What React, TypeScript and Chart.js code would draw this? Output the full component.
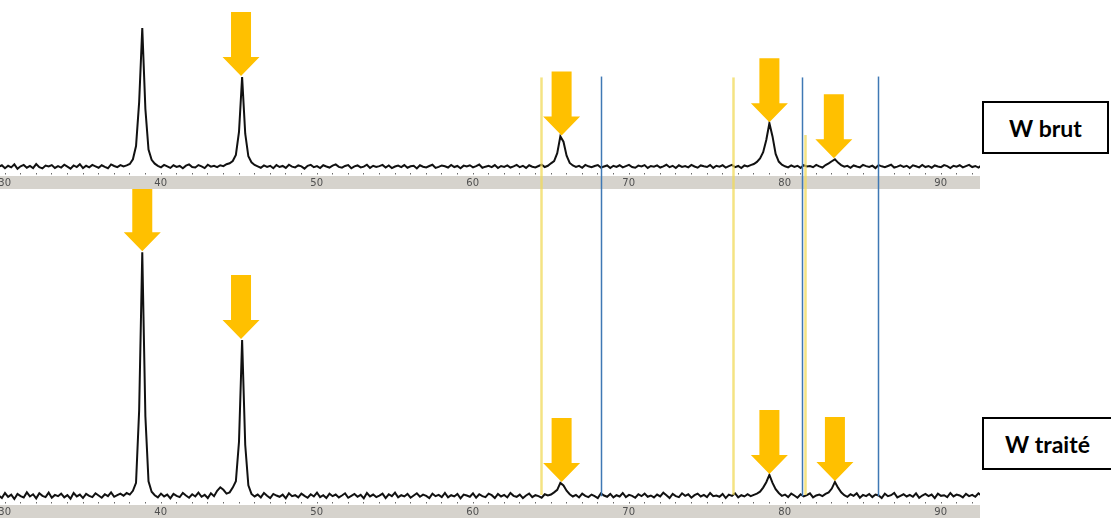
import { useEffect, useRef } from "react";
import { Chart, registerables } from "chart.js";

Chart.register(...registerables);

// ---- scan definition (2θ, degrees) ----
const scanStart = 29.62;
const scanStep = 0.2;
const axisMin = 29.7;
const axisMax = 92.52;
const tickLabels = [30, 40, 50, 60, 70, 80, 90];

// ---- W brut (top pattern), intensity a.u. ----
const brutCounts = [
  52, 61, 44, 58, 49, 66, 41, 55, 63, 47,
  57, 45, 68, 50, 43, 59, 54, 62, 46, 56,
  48, 64, 53, 42, 60, 51, 67, 45, 58, 49,
  63, 55, 47, 61, 52, 44, 66, 57, 50, 62,
  54, 60, 68, 95, 170, 420, 840, 380, 150, 92,
  70, 58, 49, 63, 55, 46, 61, 52, 57, 44,
  59, 66, 51, 48, 62, 55, 45, 64, 53, 58,
  50, 61, 56, 67, 72, 85, 120, 250, 562, 240,
  112, 78, 63, 55, 47, 60, 52, 58, 44, 62,
  51, 57, 46, 64, 53, 49, 60, 55, 42, 58,
  63, 50, 56, 45, 61, 54, 48, 59, 66, 52,
  47, 57, 62, 44, 55, 60, 49, 53, 64, 46,
  58, 51, 56, 63, 48, 60, 45, 54, 59, 50,
  62, 47, 55, 58, 43, 61, 53, 49, 57, 64,
  46, 52, 60, 55, 48, 63, 51, 57, 44, 59,
  54, 61, 49, 56, 65, 47, 53, 58, 50, 62,
  45, 57, 52, 60, 48, 55, 63, 50, 58, 46,
  61, 53, 49, 57, 64, 51, 58, 72, 85, 130,
  225, 195, 115, 74, 60, 52, 58, 47, 63, 55,
  50, 57, 62, 48, 54, 60, 45, 58, 52, 61,
  49, 56, 63, 51, 47, 59, 54, 62, 46, 57,
  53, 60, 48, 55, 64, 50, 58, 45, 61, 52,
  57, 49, 63, 54, 47, 60, 55, 51, 62, 46,
  58, 53, 61, 48, 56, 63, 50, 57, 45, 60,
  54, 62, 68, 80, 100, 135, 205, 300, 225, 125,
  82, 64, 55, 49, 60, 52, 58, 46, 61, 54,
  57, 50, 63, 55, 48, 62, 72, 84, 95, 76,
  62, 53, 58, 47, 60, 54, 49, 63, 56, 51,
  59, 45, 62, 55, 50, 57, 64, 48, 53, 60,
  52, 58, 46, 61, 55, 49, 63, 51, 57, 47,
  60, 54, 50, 62, 56, 45, 58, 53, 61, 49,
  56, 63, 51, 57, 48, 60,
];

// ---- W traité (bottom pattern), intensity a.u. ----
const traiteCounts = [
  30, 22, 38, 26, 33, 19, 35, 28, 24, 40,
  27, 34, 21, 37, 29, 25, 39, 23, 32, 28,
  36, 24, 31, 20, 38, 27, 33, 22, 35, 29,
  25, 37, 30, 23, 34, 28, 40, 26, 31, 36,
  29, 38, 33, 45, 70, 300, 800, 280, 75, 42,
  31, 24, 36, 27, 33, 21, 35, 29, 25, 38,
  30, 23, 34, 27, 39, 26, 32, 22, 37, 28,
  45, 56, 48, 36, 40, 55, 75, 200, 522, 190,
  62, 35, 27, 33, 24, 38, 29, 22, 35, 30,
  26, 33, 21, 37, 28, 31, 24, 36, 29, 23,
  34, 27, 39, 25, 31, 22, 36, 28, 33, 24,
  30, 37, 23, 29, 35, 26, 32, 21, 38, 27,
  33, 25, 30, 36, 22, 34, 28, 39, 24, 31,
  27, 35, 23, 30, 37, 26, 33, 29, 22, 36,
  28, 32, 25, 38, 24, 31, 27, 35, 21, 33,
  30, 26, 37, 23, 34, 28, 25, 36, 31, 22,
  35, 27, 32, 24, 38, 29, 26, 33, 22, 30,
  36, 25, 31, 28, 23, 34, 30, 33, 40, 48,
  70, 62, 45, 34, 27, 32, 24, 36, 29, 25,
  33, 28, 22, 37, 30, 26, 35, 24, 31, 27,
  38, 25, 32, 29, 23, 34, 28, 36, 26, 30,
  24, 33, 27, 39, 31, 22, 35, 28, 25, 37,
  29, 34, 23, 31, 36, 27, 32, 25, 38, 28,
  30, 26, 35, 22, 33, 29, 37, 24, 31, 27,
  34, 28, 32, 36, 42, 55, 72, 95, 70, 50,
  38, 29, 33, 25, 36, 30, 23, 34, 27, 31,
  37, 24, 30, 33, 28, 35, 40, 52, 73, 55,
  40, 31, 26, 34, 29, 37, 23, 32, 28, 35,
  25, 33, 30, 22, 36, 28, 31, 38, 24, 29,
  34, 27, 32, 26, 37, 23, 30, 35, 28, 33,
  22, 36, 29, 31, 25, 38, 27, 33, 30, 24,
  35, 28, 32, 26, 37, 30,
];

// ---- peaks marked with arrows (2θ) ----
const arrowPeaksBrut = [45.15, 65.7, 79.02, 83.15];
const arrowPeaksTraite = [38.82, 45.15, 65.7, 79.02, 83.22];

// ---- reference lines (2θ) ----
const refLinePositions = [64.36, 68.2, 76.7, 81.09, 81.3, 85.96];
const refLineKinds = ["yellow", "blue", "yellow", "blue", "yellow", "blue"];
const refLineStartBrut = [560, 565, 560, 560, 233, 565];
const refLineEndTraite = [32, 28, 32, 28, 32, 28];

const labelBrut = "W brut";
const labelTraite = "W traité";

const toPoints = (counts: number[]) =>
  counts.map((y, i) => ({ x: +(scanStart + i * scanStep).toFixed(2), y }));

const decorPlugin = {
  id: "decor",
  beforeDraw(chart: any) {
    const { ctx } = chart;
    const xs = chart.scales.x;
    ctx.save();
    ctx.fillStyle = "#D6D3CD";
    ctx.fillRect(0, xs.top, xs.right, xs.bottom - xs.top);
    ctx.fillStyle = "#6a6a6a";
    for (let v = Math.ceil(axisMin); v <= axisMax; v += 1) {
      const px = xs.getPixelForValue(v);
      ctx.fillRect(Math.round(px), xs.top - 3, 1, 1.5);
    }
    ctx.restore();
  },
  afterDatasetsDraw(chart: any, _a: any, opts: any) {
    const { ctx } = chart;
    const xs = chart.scales.x;
    const ys = chart.scales.y;
    ctx.save();
    refLinePositions.forEach((pos, i) => {
      const px = Math.round(xs.getPixelForValue(pos)) + 0.5;
      let y0: number, y1: number;
      if (opts.mode === "top") {
        y0 = ys.getPixelForValue(refLineStartBrut[i]);
        y1 = chart.height;
      } else {
        y0 = 0;
        y1 = ys.getPixelForValue(refLineEndTraite[i]);
      }
      const yellow = refLineKinds[i] === "yellow";
      ctx.strokeStyle = yellow ? "rgba(240,218,90,0.75)" : "#3F78B4";
      ctx.lineWidth = yellow ? 2.5 : 1.5;
      ctx.beginPath();
      ctx.moveTo(px, y0);
      ctx.lineTo(px, y1);
      ctx.stroke();
    });
    ctx.restore();
  },
  afterDraw(chart: any, _a: any, opts: any) {
    const { ctx } = chart;
    const xs = chart.scales.x;
    const ys = chart.scales.y;
    const pts = chart.data.datasets[0].data as { x: number; y: number }[];
    ctx.save();
    ctx.fillStyle = "#FFC000";
    (opts.arrows as number[]).forEach((pos) => {
      let peak = 0;
      pts.forEach((p) => {
        if (Math.abs(p.x - pos) <= 0.3 && p.y > peak) peak = p.y;
      });
      const x = xs.getPixelForValue(pos);
      const tip = ys.getPixelForValue(peak) - 1;
      const len = 64, shaftW = 20, headW = 37, headH = 19;
      ctx.beginPath();
      ctx.moveTo(x - shaftW / 2, tip - len);
      ctx.lineTo(x + shaftW / 2, tip - len);
      ctx.lineTo(x + shaftW / 2, tip - headH);
      ctx.lineTo(x + headW / 2, tip - headH);
      ctx.lineTo(x, tip);
      ctx.lineTo(x - headW / 2, tip - headH);
      ctx.lineTo(x - shaftW / 2, tip - headH);
      ctx.closePath();
      ctx.fill();
    });
    ctx.restore();
  },
};

function makeChart(canvas: HTMLCanvasElement, counts: number[], mode: string, arrows: number[]) {
  return new Chart(canvas, {
    type: "line",
    data: {
      datasets: [
        {
          data: toPoints(counts),
          borderColor: "#111111",
          borderWidth: 2,
          pointRadius: 0,
          tension: 0,
        },
      ],
    },
    options: {
      animation: false,
      responsive: false,
      maintainAspectRatio: false,
      layout: { padding: 0 },
      plugins: {
        legend: { display: false },
        tooltip: { enabled: false },
        // @ts-ignore
        decor: { mode, arrows },
      },
      scales: {
        x: {
          type: "linear",
          min: axisMin,
          max: axisMax,
          grid: { display: false, drawTicks: false },
          border: { display: false },
          afterBuildTicks: (s: any) => {
            s.ticks = tickLabels.map((v) => ({ value: v }));
          },
          afterFit: (s: any) => {
            s.height = 13;
            s.paddingLeft = 0;
            s.paddingRight = 0;
          },
          ticks: {
            autoSkip: false,
            maxRotation: 0,
            padding: 1,
            color: "#505050",
            font: { family: "DejaVu Sans", size: 10 },
            callback: (v: any) => String(v),
          },
        },
        y: { display: false, min: 0, max: 1000 },
      },
    },
    plugins: [decorPlugin as any],
  });
}

const boxStyle: React.CSSProperties = {
  position: "absolute",
  boxSizing: "border-box",
  border: "2px solid #000",
  background: "#fff",
  display: "flex",
  alignItems: "center",
  justifyContent: "center",
  fontFamily: "Lato, 'Open Sans', sans-serif",
  fontWeight: 700,
  fontSize: 23,
  color: "#000",
};

export default function App() {
  const topRef = useRef<HTMLCanvasElement>(null);
  const botRef = useRef<HTMLCanvasElement>(null);

  useEffect(() => {
    const a = makeChart(topRef.current!, brutCounts, "top", arrowPeaksBrut);
    const b = makeChart(botRef.current!, traiteCounts, "bottom", arrowPeaksTraite);
    return () => {
      a.destroy();
      b.destroy();
    };
  }, []);

  return (
    <div style={{ position: "fixed", left: 0, top: 0, width: 1111, height: 518, background: "#fff", overflow: "hidden" }}>
      <canvas ref={topRef} width={980} height={189} style={{ position: "absolute", left: 0, top: 0, width: 980, height: 189 }} />
      <canvas ref={botRef} width={980} height={329} style={{ position: "absolute", left: 0, top: 189, width: 980, height: 329 }} />
      <div style={{ ...boxStyle, left: 982, top: 101, width: 127, height: 53 }}>{labelBrut}</div>
      <div style={{ ...boxStyle, left: 982, top: 417, width: 131, height: 53 }}>{labelTraite}</div>
    </div>
  );
}
